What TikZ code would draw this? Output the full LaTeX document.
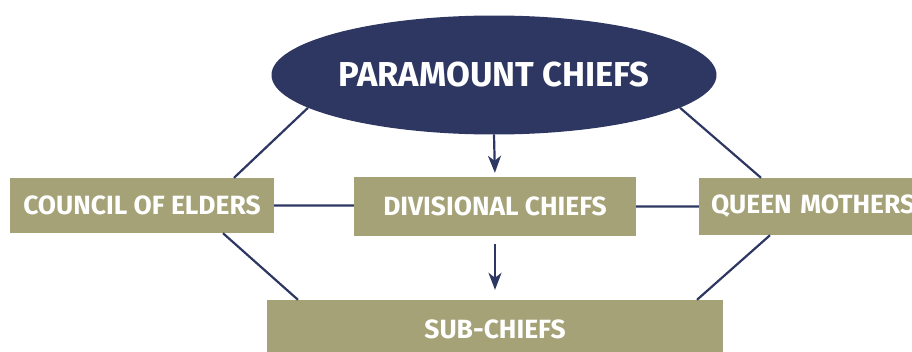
\documentclass[tikz,border=0pt]{standalone}
\usepackage{fontspec}
\setmainfont{Fira Sans}
\usetikzlibrary{shapes.geometric, arrows.meta, calc}
\definecolor{chiefnavy}{HTML}{2D3762}
\definecolor{chiefolive}{HTML}{A5A277}

\begin{document}
\begin{tikzpicture}[x=1pt, y=-1pt,
    rank/.style={fill=chiefolive, text=white, inner sep=0pt,
        font=\bfseries\fontsize{26.4}{30}\selectfont},
    link/.style={draw=chiefnavy, line width=2.2pt},
    down/.style={link, -{Stealth[length=17pt, width=13pt, inset=5pt]}},
    ]
    \useasboundingbox (0,0) rectangle (912,351);
    \clip (0,0) rectangle (912,351);

    \node[ellipse, fill=chiefnavy, text=white, inner sep=0pt,
        minimum width=445pt, minimum height=119pt,
        font=\bfseries\fontsize{34.6}{40}\selectfont] (pc) at (494,75) {PARAMOUNT CHIEFS};
    \node[rank, minimum width=264pt, minimum height=55pt] (coe) at (142,205.5) {COUNCIL OF ELDERS};
    \node[rank, minimum width=282pt, minimum height=59pt] (div) at (495,206.5) {DIVISIONAL CHIEFS};
    \node[rank, minimum width=245pt, minimum height=57pt, text width=221pt, align=left] (qm) at (821.5,206.5) {QUEEN MOTHERS};
    \node[rank, minimum width=456pt, minimum height=58pt] (sub) at (495,329) {SUB-CHIEFS};

    \draw[link]
        (pc.190) -- ($(coe.north)+(92,0)$)
        (pc.350) -- ($(qm.north)+(-60.5,0)$)
        ($(coe.south)+(81,0)$) -- ($(sub.north)+(-197,0)$)
        ($(qm.south)+(-51.5,0)$) -- ($(sub.north)+(202,0)$)
        (coe.east) -- (coe.east -| div.west)
        (div.east) -- (div.east -| qm.west)
        ;
    \draw[down, shorten >=4pt] (pc.south) -- (div.north);
    \draw[down, shorten <=8pt, shorten >=10pt] (div.south) -- (sub.north);
\end{tikzpicture}
\end{document}
